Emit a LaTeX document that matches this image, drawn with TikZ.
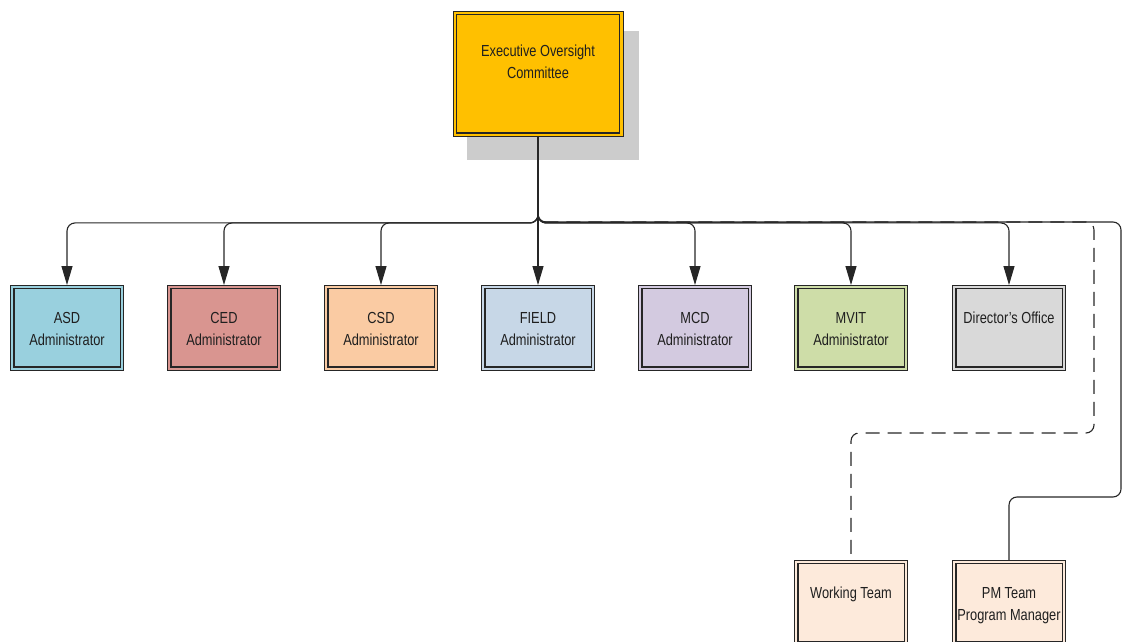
\documentclass[tikz,border=0pt]{standalone}
\usepackage{fontspec}
\setmainfont{Liberation Sans}[FakeStretch=0.8]
\usetikzlibrary{arrows.meta,calc}
\definecolor{cEOC}{HTML}{FFC000}
\definecolor{cASD}{HTML}{99D0DE}
\definecolor{cCED}{HTML}{D99590}
\definecolor{cCSD}{HTML}{FACBA3}
\definecolor{cFIELD}{HTML}{C7D7E7}
\definecolor{cMCD}{HTML}{D3CAE0}
\definecolor{cMVIT}{HTML}{CEDDA8}
\definecolor{cDIR}{HTML}{D9D9D9}
\definecolor{cTEAM}{HTML}{FDEADB}
\definecolor{cShadow}{HTML}{CCCCCC}
\newcommand\fstrut{\rule{0pt}{12.5pt}}
\begin{document}
\begin{tikzpicture}[x=1pt,y=1pt,
  orgbox/.style={draw=black!85, line width=0.9pt, fill=#1,
    minimum width=113pt, minimum height=85pt, inner sep=0pt,
    path picture={\draw[black!85, line width=1.4pt]
      ($(path picture bounding box.south west)+(3.3,3.3)$) rectangle
      ($(path picture bounding box.north east)+(-3.3,-3.3)$);}},
  lbl/.style={anchor=north, align=center, inner sep=0pt,
    font=\fontsize{16}{22}\selectfont, text=black!88},
  conn/.style={line width=1.1pt, draw=black!85, rounded corners=8pt},
  arr/.style={conn, -{Triangle[length=19pt,width=11pt]}},
  dashconn/.style={conn, dash pattern=on 14pt off 8pt}]
\useasboundingbox (0,0) rectangle (1124,642);

% top box with shadow
\coordinate (eocC) at (538,568);
\fill[cShadow] ($(eocC)+(-71.5,-86)$) rectangle ($(eocC)+(100.5,43)$);
\node[orgbox=cEOC, minimum width=170pt, minimum height=125pt] (eoc) at (eocC) {};
\node[lbl] (eocT) at ($(eoc.north)+(0,-32.5)$) {\fstrut Executive Oversight\\Committee};

% second row
\node[orgbox=cASD]   (asd)   at (67,314)  {};
\node[orgbox=cCED]   (ced)   at (224,314) {};
\node[orgbox=cCSD]   (csd)   at (381,314) {};
\node[orgbox=cFIELD] (field) at (538,314) {};
\node[orgbox=cMCD]   (mcd)   at (695,314) {};
\node[orgbox=cMVIT]  (mvit)  at (851,314) {};
\node[orgbox=cDIR]   (dir)   at (1009,314) {};

\node[lbl] (asdT)   at ($(asd.north)+(0,-25.5)$)   {\fstrut ASD\\Administrator};
\node[lbl] (cedT)   at ($(ced.north)+(0,-25.5)$)   {\fstrut CED\\Administrator};
\node[lbl] (csdT)   at ($(csd.north)+(0,-25.5)$)   {\fstrut CSD\\Administrator};
\node[lbl] (fieldT) at ($(field.north)+(0,-25.5)$) {\fstrut FIELD\\Administrator};
\node[lbl] (mcdT)   at ($(mcd.north)+(0,-25.5)$)   {\fstrut MCD\\Administrator};
\node[lbl] (mvitT)  at ($(mvit.north)+(0,-25.5)$)  {\fstrut MVIT\\Administrator};
\node[lbl] (dirT)   at ($(dir.north)+(0,-25.5)$)   {\fstrut Director's Office};

% bottom row
\node[orgbox=cTEAM] (work) at (851,39)  {};
\node[orgbox=cTEAM] (pm)   at (1009,39) {};
\node[lbl] (workT) at ($(work.north)+(0,-25.5)$) {\fstrut Working Team};
\node[lbl] (pmT)   at ($(pm.north)+(0,-25.5)$)   {\fstrut PM Team\\Program Manager};

% connectors
\coordinate (dA) at (1094,420);
\coordinate (dB) at (1094,209);
\coordinate (pA) at (1121,420);
\coordinate (pB) at (1121,145);

\draw[dashconn] (eoc.south) |- (dA) -- (dB) -| (work.north);
\draw[conn] (eoc.south) |- (pA) -- (pB) -| (pm.north);

\draw[arr] (eoc.south) -- ++(0,-86) -| (asd.north);
\draw[arr] (eoc.south) -- ++(0,-86) -| (ced.north);
\draw[arr] (eoc.south) -- ++(0,-86) -| (csd.north);
\draw[arr] (eoc.south) -- (field.north);
\draw[arr] (eoc.south) -- ++(0,-86) -| (mcd.north);
\draw[arr] (eoc.south) -- ++(0,-86) -| (mvit.north);
\draw[arr] (eoc.south) -- ++(0,-86) -| (dir.north);
\end{tikzpicture}
\end{document}
